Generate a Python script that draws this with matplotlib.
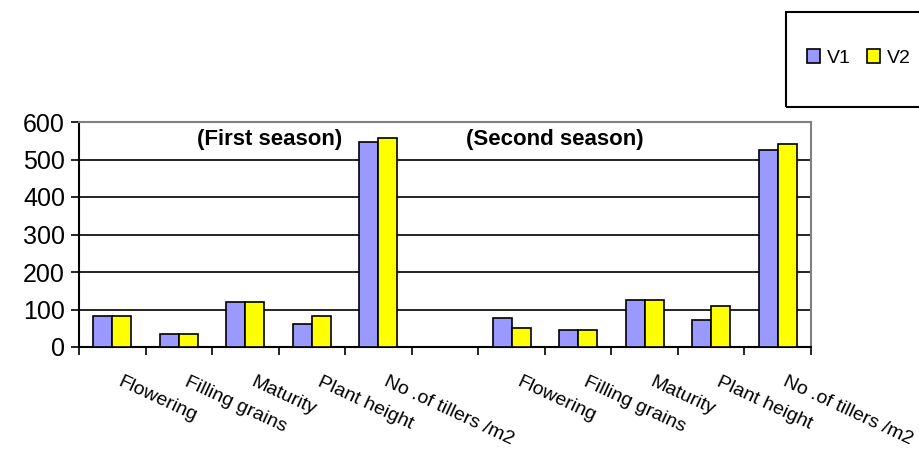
import numpy as np
import matplotlib
matplotlib.use('Agg')
import matplotlib.pyplot as plt
import matplotlib.patches as patches
import matplotlib.transforms as mtransforms

plt.rcParams['font.family'] = ['Liberation Sans', 'DejaVu Sans']

categories = ['Flowering', 'Filling grains', 'Maturity', 'Plant height', 'No .of tillers /m2', '',
              'Flowering', 'Filling grains', 'Maturity', 'Plant height', 'No .of tillers /m2']
v1 = [82, 34, 120, 61, 547, 0, 77, 45, 125, 72, 525]
v2 = [82, 34, 120, 82, 557, 0, 51, 45, 125, 109, 541]
y_ticks = [0, 100, 200, 300, 400, 500, 600]


def make_plot():
    fig = plt.figure(figsize=(9.2, 4.5), dpi=100)
    ax = fig.add_axes([79 / 920, 1 - 347 / 450, 732 / 920, 225 / 450])

    x = np.arange(len(categories))
    w = 0.285
    ax.bar(x - w / 2, v1, width=w, color='#9999FF', edgecolor='black', linewidth=1.2, label='V1', zorder=3)
    ax.bar(x + w / 2, v2, width=w, color='#FFFF00', edgecolor='black', linewidth=1.2, label='V2', zorder=3)

    ax.set_xlim(-0.5, len(categories) - 0.5)
    ax.set_ylim(0, 600)
    ax.set_yticks(y_ticks)
    ax.yaxis.grid(True, color='black', linewidth=1.2, zorder=0)
    ax.tick_params(axis='y', labelsize=18, length=6, width=1.2, direction='out', pad=4)

    # tick marks between categories, labels at centres
    ax.set_xticks(np.arange(len(categories) + 1) - 0.5, minor=True)
    ax.tick_params(axis='x', which='minor', length=6, width=1.2, direction='out')
    ax.set_xticks(x)
    ax.set_xticklabels(categories)
    ax.tick_params(axis='x', which='major', length=0, labelsize=14, pad=19)
    offset = mtransforms.ScaledTranslation(10 / 100, 0, fig.dpi_scale_trans)
    for lab in ax.get_xticklabels():
        lab.set_rotation(-25)
        lab.set_ha('left')
        lab.set_va('top')
        lab.set_rotation_mode('anchor')
        lab.set_transform(lab.get_transform() + offset)

    for side in ['left', 'bottom']:
        ax.spines[side].set_linewidth(1.5)
        ax.spines[side].set_color('black')
    for side in ['top', 'right']:
        ax.spines[side].set_linewidth(1.5)
        ax.spines[side].set_color('#808080')

    ax.text(2.36, 0.92, '(First season)', transform=ax.get_xaxis_transform(),
            fontsize=16, fontweight='bold', ha='center', va='center')
    ax.text(6.65, 0.92, '(Second season)', transform=ax.get_xaxis_transform(),
            fontsize=16, fontweight='bold', ha='center', va='center')

    # legend box runs off the right edge
    box = patches.Rectangle((786 / 920, 1 - 107 / 450), 0.3, 95 / 450, transform=fig.transFigure,
                            fill=False, edgecolor='black', linewidth=1.5, clip_on=False)
    fig.patches.append(box)
    fig.legend(loc='center left', bbox_to_anchor=(797 / 920, 1 - 58 / 450), ncol=2, frameon=False,
               fontsize=14, handlelength=0.7, handleheight=0.7, handletextpad=0.35,
               columnspacing=0.8, borderpad=0)

    fig.savefig('out.png', dpi=100)


if __name__ == '__main__':
    make_plot()
